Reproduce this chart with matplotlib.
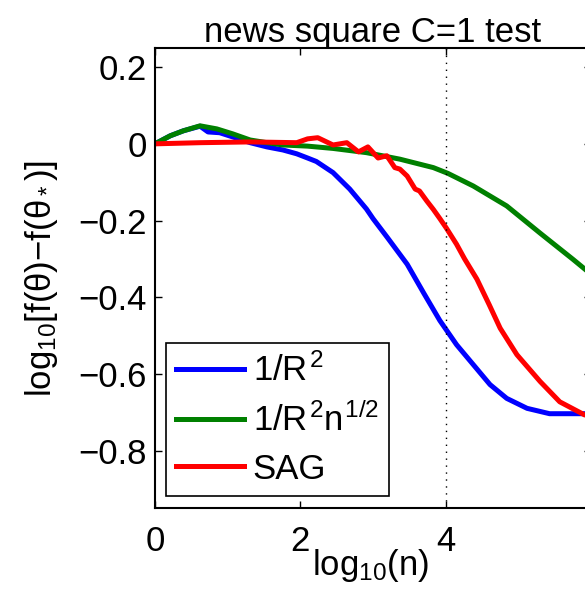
import matplotlib
matplotlib.use("Agg")
import matplotlib.pyplot as plt

plt.rcParams['font.family'] = ['Liberation Sans', 'DejaVu Sans']
plt.rcParams['mathtext.fontset'] = 'custom'
plt.rcParams['mathtext.rm'] = 'Liberation Sans'
plt.rcParams['mathtext.it'] = 'Liberation Sans'
plt.rcParams['mathtext.bf'] = 'Liberation Sans:bold'
plt.rcParams['mathtext.sf'] = 'Liberation Sans'

title = "news square C=1 test"
labels = [r"$1/R^2$", r"$1/R^2n^{1/2}$", "SAG"]
colors = ["#0000ff", "#008000", "#ff0000"]

blue_x = [0, 0.21, 0.39, 0.62, 0.73, 0.89, 1.07, 1.31, 1.54, 1.76, 1.95, 2.1,
          2.22, 2.45, 2.68, 2.91, 3.0, 3.2, 3.47, 3.7, 3.92, 4.15, 4.38, 4.61,
          4.84, 5.12, 5.43, 5.91, 6.0]
blue_y = [0, 0.021, 0.034, 0.046, 0.031, 0.029, 0.018, 0.003, -0.008, -0.016,
          -0.026, -0.037, -0.046, -0.075, -0.118, -0.17, -0.195, -0.245, -0.314,
          -0.39, -0.461, -0.524, -0.576, -0.628, -0.664, -0.69, -0.704, -0.704,
          -0.704]

green_x = [0, 0.21, 0.39, 0.62, 0.85, 1.07, 1.31, 1.54, 1.76, 2.1, 2.45, 2.91,
           3.37, 3.83, 4.03, 4.38, 4.84, 5.3, 5.75, 6.0]
green_y = [0, 0.021, 0.034, 0.047, 0.039, 0.026, 0.01, 0.003, -0.003, -0.006,
           -0.012, -0.023, -0.04, -0.062, -0.077, -0.11, -0.162, -0.233, -0.301,
           -0.34]

red_x = [0, 0.62, 1.31, 1.95, 2.1, 2.24, 2.45, 2.64, 2.8, 2.93, 3.07, 3.19, 3.3,
         3.37, 3.47, 3.58, 3.64, 3.74, 3.83, 3.92, 4.01, 4.15, 4.26, 4.43, 4.6,
         4.75, 4.98, 5.3, 5.57, 5.91, 6.0]
red_y = [0, 0.003, 0.005, 0.003, 0.013, 0.016, -0.003, 0.003, -0.021, -0.008,
         -0.037, -0.031, -0.062, -0.066, -0.084, -0.118, -0.123, -0.149, -0.171,
         -0.195, -0.22, -0.262, -0.3, -0.353, -0.42, -0.481, -0.55, -0.62,
         -0.673, -0.707, -0.71]

xticks = [0, 2, 4]
yticks = [0.2, 0, -0.2, -0.4, -0.6, -0.8]
ytick_labels = ["0.2", "0", "\u22120.2", "\u22120.4", "\u22120.6", "\u22120.8"]
vline_x = 4

W, H = 585, 595
fig = plt.figure(figsize=(W / 100, H / 100), dpi=100)
ax = fig.add_axes([155 / W, (H - 508) / H, 436 / W, 460 / H])

fs = 25
lw = 3.6
ax.plot(blue_x, blue_y, color=colors[0], lw=lw, label=labels[0],
        solid_joinstyle="round")
ax.plot(green_x, green_y, color=colors[1], lw=lw, label=labels[1],
        solid_joinstyle="round")
ax.plot(red_x, red_y, color=colors[2], lw=lw, label=labels[2],
        solid_joinstyle="round")
ax.axvline(vline_x, color="black", lw=1, linestyle=(0, (1, 4)))

ax.set_xlim(0, 6)
ax.set_ylim(-0.95, 0.25)
ax.set_xticks(xticks)
ax.set_xticklabels([str(t) for t in xticks], fontsize=fs)
ax.set_yticks(yticks)
ax.set_yticklabels(ytick_labels, fontsize=fs)
ax.tick_params(direction="in", length=5, width=1, top=True, right=True, pad=12)
ax.tick_params(axis="y", pad=6)
for s in ax.spines.values():
    s.set_linewidth(1.5)

ax.set_title(title, fontsize=fs, pad=4)
ax.set_xlabel(r"$\mathregular{log_{10}(n)}$", fontsize=fs)
ax.xaxis.set_label_coords(0.495, -0.085, transform=ax.transAxes)
ax.xaxis.label.set_va("top")
ax.set_ylabel(r"$\mathregular{log_{10}[f(\theta){-}f(\theta_*)]}$", fontsize=fs)
ax.yaxis.set_label_coords(-0.218, 0.5)

leg = ax.legend(loc="lower left", bbox_to_anchor=(0.025, 0.026), borderaxespad=0,
                fontsize=fs, handlelength=1.95, handletextpad=0.25,
                labelspacing=0.42, borderpad=0.3, fancybox=False, frameon=True,
                framealpha=1)
leg.get_frame().set_edgecolor("black")
leg.get_frame().set_linewidth(1.2)

fig.savefig("out.png", dpi=100)
